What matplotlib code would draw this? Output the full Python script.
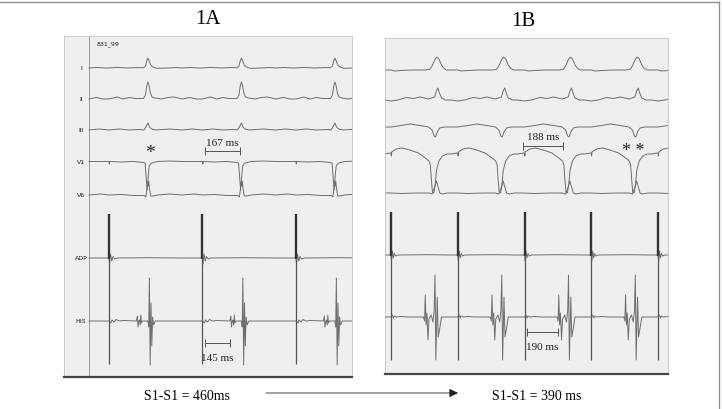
import numpy as np
import matplotlib.pyplot as plt

W, H = 722, 409

channels = ["I", "II", "III", "V1", "V6", "ADP", "HIS"]

# pacing spike times (ms)
spikes_a = [98, 558, 1018]
spikes_b = [35, 425, 815, 1205, 1595]

# beat templates for panel 1A: (ms after spike, deflection in px, up is +)
lead_i_a = [(-100, 0), (-60, 0.5), (-20, 0), (0, 0), (40, 0.6), (90, 0), (140, 0.4),
            (170, 0.3), (180, 2), (186, 7), (192, 10), (198, 7), (206, 3), (216, 1),
            (235, -0.3), (290, 0), (330, 0.5), (360, 0)]
lead_ii_a = [(-100, 0), (-60, 1.5), (-30, 0), (0, 0), (40, 2), (70, 0), (100, 1.5),
             (130, 0.5), (170, 0.5), (180, 4), (186, 13), (192, 17), (198, 13), (204, 6),
             (212, 2), (225, 1), (260, 0), (290, 1.5), (320, 2), (350, 0.5), (360, 0)]
lead_iii_a = [(-100, 0), (-50, 1), (0, 0), (50, 1), (100, 0), (150, 0.5), (172, 0),
              (182, 3), (192, 7), (200, 3), (210, 1), (230, 0), (300, 1), (360, 0)]
lead_v1_a = [(-100, 0.5), (0, 0.5), (2, -2), (4, 0.5), (60, 0), (120, 0.5), (170, -0.5),
             (178, -1), (183, -15), (188, -28), (193, -15), (198, -4), (210, -1),
             (240, 0.5), (300, 1), (360, 0.5)]
lead_v6_a = [(-100, 0), (-40, 1), (0, 0), (60, 0.5), (120, -0.5), (175, -0.5), (182, -2),
             (187, 6), (190, 13), (193, 9), (196, 14), (200, 6), (206, -1), (215, -1),
             (240, 0), (300, 1), (360, 0)]
adp_a = [(-100, 0), (0, 0), (3, -6), (8, 4), (14, -3), (20, 1.5), (28, -1), (40, 0),
         (200, 0.3), (360, 0)]
his_a = [(-100, 0), (0, 0), (10, -2), (15, 1), (25, -1), (35, 1.5), (50, 0), (70, 0.5),
         (135, 0), (140, 5), (143, -6), (147, 0), (150, 1), (154, -4), (157, 6), (160, -2),
         (165, 0), (192, 0), (196, -6), (199, 43), (203, -44), (207, 18), (211, -25),
         (215, 4), (220, -4), (228, 0), (360, 0)]

# beat templates for panel 1B
lead_i_b = [(-40, 0), (0, 0), (20, -1), (60, -0.5), (120, 0), (200, 0), (225, 0.5),
            (240, 4), (255, 10), (268, 13), (280, 11), (295, 5), (310, 1.5), (325, 0),
            (350, 0)]
lead_ii_b = [(-40, 0), (0, -1), (40, 0), (90, 2.5), (130, 1.5), (170, 3), (220, 1),
             (255, 3), (265, 9), (274, 12), (283, 7), (295, 2), (320, 0), (350, 0)]
lead_iii_b = [(-40, 0), (0, 0), (60, 1.5), (110, 3), (170, 1.5), (220, 0), (240, -3),
              (252, -9), (260, -10), (270, -5), (285, -1), (310, 0), (350, 0)]
lead_v1_b = [(-40, 1), (-5, 2), (0, 2), (2, -1), (4, 3), (30, 6), (64, 7), (110, 5),
             (160, 2), (200, -3), (222, -6), (230, -10), (236, -25), (242, -37), (250, -38),
             (258, -30), (266, -15), (280, -6), (300, -1), (327, 1), (350, 1)]
lead_v6_b = [(-40, 0), (0, 0), (60, -0.5), (150, 0), (220, 0), (240, -1), (255, 6),
             (265, 12), (275, 6), (285, 0), (300, -1), (330, 0), (350, 0)]
adp_b = [(-40, 0), (0, 0), (3, -6), (8, 4), (14, -3), (20, 1.5), (28, -1), (40, 0),
         (200, 0.3), (350, 0)]
his_b = [(-40, 0), (0, 0), (8, 2), (14, -1), (20, 1), (30, 0), (60, 0.5), (100, 0),
         (190, 0), (196, -4), (200, 22), (205, -8), (210, 4), (216, -23), (222, -2),
         (235, 2), (245, -5), (252, 6), (257, 42), (262, -43), (270, 20), (276, -20),
         (286, -10), (295, 0), (350, 0)]

# measurement brackets (start ms, end ms) and their labels
brackets_a = [(571, 743, "167 ms"), (571, 694, "145 ms")]
brackets_b = [(806, 1040, "188 ms"), (829, 1011, "190 ms")]

# layout: baseline pixel rows per channel
base_a = [68, 99, 130, 162, 195, 258, 321]
base_b = [70, 100, 127, 155, 193, 255, 317]

fig = plt.figure(figsize=(W / 100, H / 100), dpi=100)
bg = fig.add_axes([0, 0, 1, 1])
bg.set_xlim(0, W)
bg.set_ylim(H, 0)
bg.axis("off")
bg.plot([0, 719], [2, 2], color="#909090", lw=1.0)
bg.plot([719, 719], [2, H], color="#909090", lw=1.0)

serif = "Liberation Serif"
bg.text(208, 20, "1A", fontsize=15, family=serif, ha="center", va="center")
bg.text(523, 22, "1B", fontsize=15, family=serif, ha="center", va="center")
bg.text(187, 397, "S1-S1 = 460ms", fontsize=10, family=serif, ha="center", va="center")
bg.text(537, 397, "S1-S1 = 390 ms", fontsize=10, family=serif, ha="center", va="center")
bg.annotate("", xy=(458, 393), xytext=(266, 393),
            arrowprops=dict(arrowstyle="-|>", color="#222", lw=0.6,
                            mutation_scale=13, shrinkA=0, shrinkB=0))


def panel(x0, y0, x1, y1, tmin, tmax):
    ax = fig.add_axes([x0 / W, 1 - y1 / H, (x1 - x0) / W, (y1 - y0) / H])
    ax.set_facecolor("#efefef")
    ax.set_xlim(tmin, tmax)
    ax.set_ylim(y1, y0)
    ax.set_xticks([])
    ax.set_yticks([])
    for s in ["top", "left", "right"]:
        ax.spines[s].set_color("#c4c4c4")
        ax.spines[s].set_linewidth(0.6)
    ax.spines["bottom"].set_color("#454545")
    ax.spines["bottom"].set_linewidth(1.6)
    return ax


def trace(ax, spikes, tpl, base):
    arr = np.array(tpl, dtype=float)
    t = np.concatenate([s + arr[:, 0] for s in spikes])
    v = np.concatenate([arr[:, 1] for s in spikes])
    ax.plot(np.maximum(t, 0), base - v, color="#6e6e6e", lw=0.7)


def bracket(ax, t0, t1, y, label, above):
    ax.plot([t0, t1], [y, y], color="#555", lw=0.7)
    ax.vlines([t0, t1], y - 4, y + 4, color="#555", lw=0.7)
    ty = y - 8 if above else y + 15
    ax.text((t0 + t1) / 2, ty, label, fontsize=8, family=serif,
            ha="center", va="center", color="#222")


# panel 1A
ax_a = panel(64, 36, 352, 377, -123, 1294)
ax_a.axvline(0, color="#8a8a8a", lw=0.6)
ax_a.text(39, 44, "831_99", fontsize=4.5, ha="left", va="center", color="#222")
for name, y in zip(channels, base_a):
    ax_a.text(-39, y, name, fontsize=4.5, ha="center", va="center", color="#222")
for tpl, y in zip([lead_i_a, lead_ii_a, lead_iii_a, lead_v1_a, lead_v6_a, adp_a, his_a], base_a):
    trace(ax_a, spikes_a, tpl, y)
ax_a.vlines(spikes_a, 214, base_a[5] + 1, color="#333", lw=1.7)
ax_a.vlines(spikes_a, base_a[5], 364, color="#555", lw=0.9)
bracket(ax_a, brackets_a[0][0], brackets_a[0][1], 151, brackets_a[0][2], True)
bracket(ax_a, brackets_a[1][0], brackets_a[1][1], 343, brackets_a[1][2], False)
ax_a.text(300, 153, "*", fontsize=14, family=serif, ha="center", va="center", color="#222")

# panel 1B
ax_b = panel(385, 38, 668, 374, 0, 1653)
for tpl, y in zip([lead_i_b, lead_ii_b, lead_iii_b, lead_v1_b, lead_v6_b, adp_b, his_b], base_b):
    trace(ax_b, spikes_b, tpl, y)
ax_b.vlines(spikes_b, 212, base_b[5] + 1, color="#333", lw=1.7)
ax_b.vlines(spikes_b, base_b[5], 360, color="#555", lw=0.9)
bracket(ax_b, brackets_b[0][0], brackets_b[0][1], 146, brackets_b[0][2], True)
bracket(ax_b, brackets_b[1][0], brackets_b[1][1], 332, brackets_b[1][2], False)
ax_b.text(1450, 151, "* *", fontsize=13, family=serif, ha="center", va="center", color="#222")

fig.savefig("out.png", dpi=100)
